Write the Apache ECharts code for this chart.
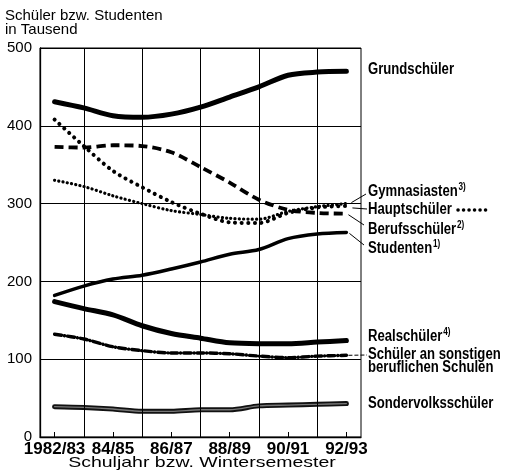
<!DOCTYPE html>
<html><head><meta charset="utf-8">
<script src="https://cdn.jsdelivr.net/npm/echarts@6/dist/echarts.min.js"></script>
<style>html,body{margin:0;padding:0;background:#fff}#c{width:507px;height:475px}</style>
</head><body><div id="c"></div>
<script>
const categories = ['1982/83','83/84','84/85','85/86','86/87','87/88','88/89','89/90','90/91','91/92','92/93'];
const grundschueler   = [431, 423, 413, 411, 415, 424, 437, 450, 465, 469, 470];
const gymnasiasten    = [330, 322, 310, 300, 291, 286, 281, 280, 290, 296, 300];
const hauptschueler   = [408, 374, 342, 321, 302, 287, 276, 275, 288, 295, 297];
const berufsschueler  = [373, 372, 375, 374, 366, 347, 327, 305, 292, 288, 287];
const studenten       = [182, 194, 203, 208, 216, 225, 235, 241, 255, 261, 263];
const realschueler    = [174, 165, 157, 143, 133, 127, 121, 120, 120, 122, 124];
const sonstigeBeruf   = [132, 126, 116, 111, 108, 108, 107, 104, 102, 104, 105];
const sondervolks     = [39, 38, 36, 33, 33, 35, 35, 40, 41, 42, 43];
const yTicks = [0, 100, 200, 300, 400, 500];
const gridCategories = categories.filter((_, i) => i % 2 === 1);

const FONT = "'Liberation Sans', Arial, Helvetica, sans-serif";
const chart = echarts.init(document.getElementById('c'), null, {renderer: 'canvas'});

function ser(name, data, lineStyle, z) {
  return {type: 'line', name, data, smooth: 0.3, symbol: 'none', silent: true,
          lineStyle: Object.assign({color: '#000', cap: 'round', join: 'round'}, lineStyle), z: z || 2};
}

const series = [
  Object.assign(ser('Grundschüler', grundschueler, {width: 5}), {
    markLine: {silent: true, symbol: ['none', 'none'], label: {show: false},
      lineStyle: {color: '#000', width: 1, type: 'solid'},
      data: gridCategories.map(c => ({xAxis: c}))}
  }),
  ser('Gymnasiasten', gymnasiasten, {width: 3.2, type: [0.1, 4.2]}),
  ser('Hauptschüler', hauptschueler, {width: 4, type: [0.1, 6.5]}),
  ser('Berufsschüler', berufsschueler, {width: 3.8, type: [9, 5], cap: 'butt'}),
  ser('Studenten', studenten, {width: 3.5}),
  ser('Realschüler', realschueler, {width: 5}),
  ser('Schüler an sonstigen beruflichen Schulen', sonstigeBeruf, {width: 3.4, type: [7, 3, 0.1, 3]}),
  ser('Sondervolksschüler', sondervolks, {width: 5, color: '#111'}),
  ser('Sondervolksschüler (Innenlinie)', sondervolks, {width: 1.3, color: '#777'}, 3)
];

chart.setOption({
  animation: false,
  backgroundColor: '#fff',
  grid: {left: 40, right: 146, top: 48, bottom: 38, show: true, borderColor: '#000', borderWidth: 1},
  xAxis: {
    type: 'category', data: categories, boundaryGap: true,
    axisLine: {lineStyle: {color: '#000', width: 1.3}},
    axisTick: {show: true, inside: true, alignWithLabel: true, interval: 0, length: 5, lineStyle: {color: '#000'}},
    axisLabel: {interval: 1, fontSize: 17, fontWeight: 'bold', color: '#000', margin: 4, fontFamily: FONT},
    splitLine: {show: false}
  },
  yAxis: {
    type: 'value', min: yTicks[0], max: yTicks[yTicks.length - 1], interval: 100,
    axisLine: {show: true, lineStyle: {color: '#000', width: 1.3}},
    axisTick: {show: false},
    axisLabel: {fontSize: 15, color: '#000', margin: 8, fontFamily: FONT},
    splitLine: {show: true, lineStyle: {color: '#000', width: 1}}
  },
  series
});

function px(idx, val) { return chart.convertToPixel({gridIndex: 0}, [idx, val]); }
const last = categories.length - 1;
const pG = px(last, gymnasiasten[last]);
const pH = px(last, hauptschueler[last]);
const pB = px(last, berufsschueler[last]);
const pS = px(last, studenten[last]);
const pO = px(last, sonstigeBeruf[last]);

const LX = 368;
function label(text, y) {
  return {type: 'text', x: LX, y: y, scaleX: 0.82, silent: true,
    style: {text, fill: '#000', font: 'bold 16px ' + FONT, textAlign: 'left', textVerticalAlign: 'middle',
      rich: {
        m: {fontSize: 16, fontWeight: 'bold', fontFamily: FONT, fill: '#000', lineHeight: 18, verticalAlign: 'bottom'},
        sup: {fontSize: 10, fontWeight: 'bold', fontFamily: FONT, fill: '#000', lineHeight: 10, verticalAlign: 'top', padding: [0, 0, 0, 1]}
      }}};
}
function line(x1, y1, x2, y2, extra) {
  return {type: 'line', silent: true, shape: {x1, y1, x2, y2},
    style: Object.assign({stroke: '#000', lineWidth: 1}, extra || {})};
}

chart.setOption({
  graphic: [
    {type: 'text', left: 5, top: 8, silent: true,
     style: {text: 'Schüler bzw. Studenten\nin Tausend', fill: '#000', font: '15px ' + FONT, lineHeight: 14}},
    {type: 'text', x: 202, y: 463, scaleX: 1.3, silent: true,
     style: {text: 'Schuljahr bzw. Wintersemester', fill: '#000', font: '15px ' + FONT, textAlign: 'center', textVerticalAlign: 'middle'}},
    label('Grundschüler', 70),
    label('{m|Gymnasiasten}{sup|3)}', 191),
    label('Hauptschüler', 210),
    label('{m|Berufsschüler}{sup|2)}', 229),
    label('{m|Studenten}{sup|1)}', 248),
    label('{m|Realschüler}{sup|4)}', 336),
    label('Schüler an sonstigen', 355),
    label('beruflichen Schulen', 368),
    label('Sondervolksschüler', 404),
    line(pG[0] + 5, pG[1] - 1, LX - 2, 194),
    line(pH[0] + 6, pH[1] + 2, LX - 1, 209),
    line(pB[0] + 2, pB[1] + 1, LX - 4, 225),
    line(pS[0] + 3, pS[1] + 1, LX - 4, 245),
    line(pO[0] + 2, pO[1], LX - 1, 355, {lineDash: [4, 2]}),
    line(458, 210, 490, 210, {lineWidth: 3.5, lineDash: [0.1, 5.4], lineCap: 'round'})
  ]
});
</script></body></html>
